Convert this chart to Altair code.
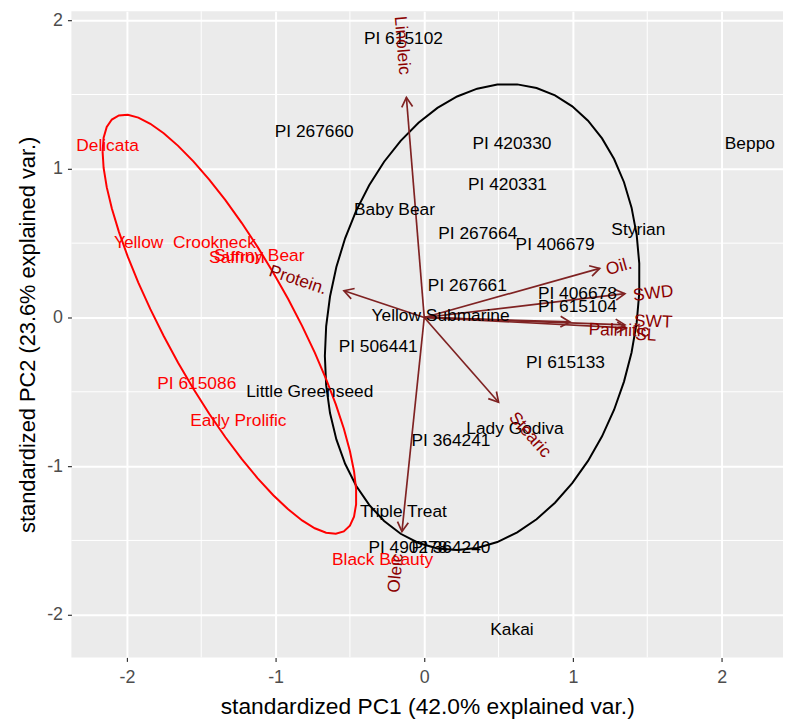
import altair as alt
import numpy as np
import pandas as pd

# ---- sample scores (group "other" = black, group "red") ----
black_names = ["PI 615102", "PI 267660", "PI 420330", "PI 420331", "Baby Bear", "PI 267664",
               "PI 406679", "Styrian", "Beppo", "PI 267661", "PI 406678", "PI 615104",
               "Yellow Submarine", "PI 506441", "PI 615133", "Little Greenseed", "Lady Godiva",
               "PI 364241", "Triple Treat", "PI 490278", "PI 364240", "Kakai"]
black_x = [-0.14, -0.74, 0.59, 0.56, -0.20, 0.36, 0.88, 1.44, 2.19, 0.29, 1.03, 1.03,
           0.11, -0.31, 0.95, -0.77, 0.61, 0.18, -0.14, -0.11, 0.18, 0.59]
black_y = [1.87, 1.25, 1.17, 0.89, 0.72, 0.56, 0.49, 0.59, 1.17, 0.21, 0.16, 0.07,
           0.01, -0.20, -0.31, -0.50, -0.75, -0.83, -1.31, -1.55, -1.55, -2.10]

red_names = ["Delicata", "Yellow \u00a0Crookneck", "Sunny Bear", "Saffron", "PI 615086",
             "Early Prolific", "Black Beauty"]
red_x = [-2.13, -1.61, -1.11, -1.26, -1.53, -1.25, -0.28]
red_y = [1.15, 0.50, 0.41, 0.40, -0.45, -0.70, -1.63]

# ---- variable loadings (arrows) ----
var_names = ["Linoleic", "Oil.", "SWD", "SWT", "Palmitic", "SL", "Stearic", "Oleic", "Protein."]
var_x = [-0.12, 1.18, 1.35, 1.35, 0.98, 1.36, 0.50, -0.15, -0.54]
var_y = [1.48, 0.33, 0.16, -0.05, -0.03, -0.07, -0.57, -1.44, 0.18]
lab_x = [-0.15, 1.31, 1.54, 1.54, 1.31, 1.49, 0.71, -0.19, -0.85]
lab_y = [1.83, 0.34, 0.16, -0.03, -0.09, -0.12, -0.79, -1.72, 0.25]

major_ticks = [-2, -1, 0, 1, 2]
minor_ticks = [-1.5, -0.5, 0.5, 1.5]

XDOM = [-2.373, 2.413]
YDOM = [-2.287, 2.06]

FONT = "Liberation Sans"
RED = "#FF0000"
ARROW = "#7F2222"
LABEL_DR = "#8B0000"

samples = pd.DataFrame({
    "name": black_names + red_names,
    "x": black_x + red_x,
    "y": black_y + red_y,
    "grp": ["black"] * len(black_names) + ["red"] * len(red_names),
})

# ellipses (ggbiplot style: 68% normal probability ellipse per group)
theta = np.concatenate([np.linspace(-np.pi, np.pi, 50), np.linspace(np.pi, -np.pi, 50)])
circle = np.column_stack([np.cos(theta), np.sin(theta)])
ed = np.sqrt(-2 * np.log(1 - 0.68))
ell_rows = []
for g, gx, gy in [("black", black_x, black_y), ("red", red_x, red_y)]:
    pts = np.column_stack([gx, gy])
    sigma = np.cov(pts, rowvar=False)
    mu = pts.mean(axis=0)
    L = np.linalg.cholesky(sigma)
    e = circle @ L.T * ed + mu
    for i, (ex, ey) in enumerate(e):
        ell_rows.append({"x": ex, "y": ey, "grp": g, "ord": i})
ell = pd.DataFrame(ell_rows)

vx = np.array(var_x)
vy = np.array(var_y)
head_ang = (np.degrees(np.arctan2(vx, vy)) + 360) % 360
lab_ang = (-np.degrees(np.arctan(vy / vx)) + 360) % 360
arrows = pd.DataFrame({"name": var_names, "x0": 0.0, "y0": 0.0, "x": vx, "y": vy,
                       "hang": head_ang, "lx": lab_x, "ly": lab_y, "lang": lab_ang})

xs = alt.Scale(domain=XDOM, nice=False, zero=False)
ys = alt.Scale(domain=YDOM, nice=False, zero=False)
cscale = alt.Scale(domain=["black", "red"], range=["#000000", RED])

xax = alt.Axis(values=major_ticks, title="standardized PC1 (42.0% explained var.)",
               grid=True, gridColor="white", gridWidth=2, domain=False,
               tickColor="#333333", tickSize=4, tickWidth=1.2,
               labelColor="#4D4D4D", labelFontSize=18, labelFont=FONT, labelPadding=7,
               titleFont=FONT, titleFontSize=23, titleFontWeight="normal", titleColor="black",
               titlePadding=10, labelExpr="toString(datum.value)")
yax = alt.Axis(values=major_ticks, title="standardized PC2 (23.6% explained var.)",
               grid=True, gridColor="white", gridWidth=2, domain=False,
               tickColor="#333333", tickSize=4, tickWidth=1.2,
               labelColor="#4D4D4D", labelFontSize=18, labelFont=FONT, labelPadding=5,
               titleFont=FONT, titleFontSize=22, titleFontWeight="normal", titleColor="black",
               titlePadding=7, labelExpr="toString(datum.value)")

minor_x = alt.Chart(pd.DataFrame({"v": minor_ticks})).mark_rule(color="white", strokeWidth=1).encode(
    x=alt.X("v:Q", scale=xs, axis=xax))
minor_y = alt.Chart(pd.DataFrame({"v": minor_ticks})).mark_rule(color="white", strokeWidth=1).encode(
    y=alt.Y("v:Q", scale=ys, axis=yax))

ellipse = alt.Chart(ell).mark_line(strokeWidth=2).encode(
    x=alt.X("x:Q", scale=xs), y=alt.Y("y:Q", scale=ys),
    color=alt.Color("grp:N", scale=cscale, legend=None),
    detail="grp:N", order="ord:Q")

arrow_lines = alt.Chart(arrows).mark_rule(color=ARROW, strokeWidth=1.7).encode(
    x=alt.X("x0:Q", scale=xs), y=alt.Y("y0:Q", scale=ys), x2="x:Q", y2="y:Q")

arrow_heads = alt.Chart(arrows).mark_point(
    shape="M -0.5 0.87 L 0 0 L 0.5 0.87", filled=False, color=ARROW, strokeWidth=1.7,
    size=480, opacity=1).encode(
    x=alt.X("x:Q", scale=xs), y=alt.Y("y:Q", scale=ys),
    angle=alt.Angle("hang:Q", scale=None))

sample_labels = alt.Chart(samples).mark_text(font=FONT, fontSize=17.5).encode(
    x=alt.X("x:Q", scale=xs), y=alt.Y("y:Q", scale=ys), text="name:N",
    color=alt.Color("grp:N", scale=cscale, legend=None))

var_labels = alt.Chart(arrows).mark_text(font=FONT, fontSize=17.5, color=LABEL_DR).encode(
    x=alt.X("lx:Q", scale=xs), y=alt.Y("ly:Q", scale=ys), text="name:N",
    angle=alt.Angle("lang:Q", scale=None))

chart = alt.layer(minor_x, minor_y, ellipse, arrow_lines, arrow_heads, sample_labels, var_labels).properties(
    width=718, height=652,
    padding={"left": 64, "top": 0, "right": 0, "bottom": 75},
    autosize=alt.AutoSizeParams(type="none"),
).configure_view(fill="#EBEBEB", stroke=None)

chart.save("out.html", embed_options={"renderer": "svg", "actions": False})
